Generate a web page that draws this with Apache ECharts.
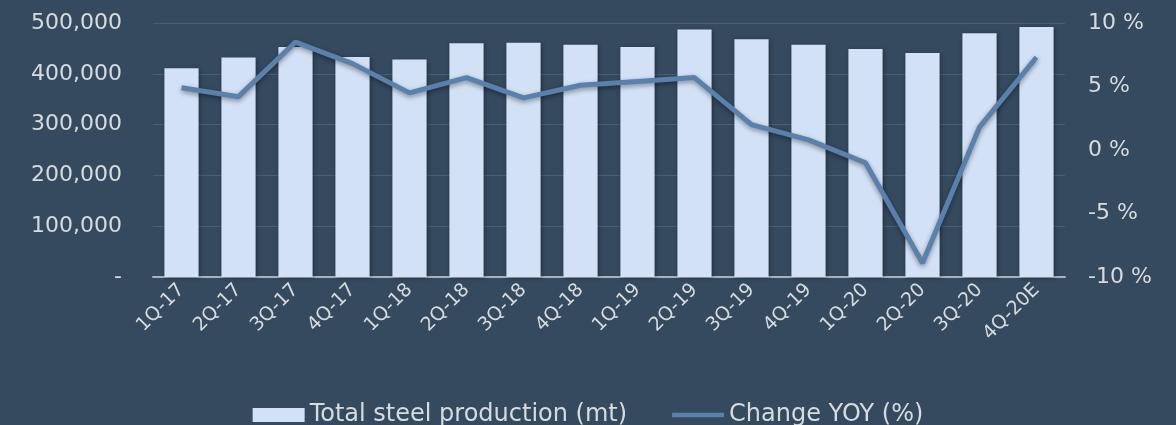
<!DOCTYPE html>
<html>
<head>
<meta charset="utf-8">
<script src="https://cdn.jsdelivr.net/npm/echarts@6/dist/echarts.min.js"></script>
<style>
  html, body { margin: 0; padding: 0; background: #354a5f; }
  #chart { width: 1176px; height: 425px; }
</style>
</head>
<body>
<div id="chart"></div>
<script>
const categories = ['1Q-17', '2Q-17', '3Q-17', '4Q-17', '1Q-18', '2Q-18', '3Q-18', '4Q-18',
  '1Q-19', '2Q-19', '3Q-19', '4Q-19', '1Q-20', '2Q-20', '3Q-20', '4Q-20E'];
// total steel production (mt)
const production = [411000, 432000, 453000, 433000, 428000, 460000, 461000, 457000,
  453000, 487000, 468000, 457000, 449000, 441000, 480000, 492000];
// change year on year, %
const changeYoy = [4.9, 4.2, 8.5, 6.8, 4.5, 5.7, 4.1, 5.1, 5.4, 5.7, 2.0, 0.8, -1.0, -8.9, 1.8, 7.3];

const textColor = '#d6dbe0';
const font = 'DejaVu Sans, Liberation Sans, sans-serif';

const chart = echarts.init(document.getElementById('chart'));

const option = {
  backgroundColor: '#354a5f',
  textStyle: { fontFamily: font },
  grid: { left: 153, right: 111, top: 23, bottom: 148 },
  legend: {
    top: 398,
    left: 'center',
    itemWidth: 52,
    itemHeight: 14,
    itemGap: 45,
    symbolKeepAspect: true,
    textStyle: { color: textColor, fontSize: 24, fontFamily: font },
    data: [
      { name: 'Total steel production (mt)', icon: 'rect' },
      { name: 'Change YOY (%)', icon: 'path://M0,0 L56,0 L56,5 L0,5 Z' }
    ]
  },
  xAxis: {
    type: 'category',
    data: categories,
    axisLine: { lineStyle: { color: '#a9b3bd', width: 2 } },
    axisTick: { show: false },
    axisLabel: {
      color: textColor,
      fontSize: 19,
      rotate: 45,
      margin: 10,
      interval: 0
    }
  },
  yAxis: [
    {
      type: 'value',
      min: 0,
      max: 500000,
      interval: 100000,
      axisLine: { show: false },
      axisTick: { show: false },
      splitLine: { lineStyle: { color: '#4b5f73', width: 1 } },
      axisLabel: {
        color: textColor,
        fontSize: 22,
        margin: 31,
        formatter: function (v) {
          return v === 0 ? '-' : v.toLocaleString('en-US');
        }
      }
    },
    {
      type: 'value',
      min: -10,
      max: 10,
      interval: 5,
      axisLine: { show: false },
      axisTick: { show: false },
      splitLine: { show: false },
      axisLabel: {
        color: textColor,
        fontSize: 22,
        margin: 23,
        formatter: '{value} %'
      }
    }
  ],
  series: [
    {
      name: 'Total steel production (mt)',
      type: 'bar',
      data: production,
      barWidth: '60%',
      itemStyle: {
        color: '#d3e1f6',
        shadowColor: 'rgba(0,0,0,0.35)',
        shadowBlur: 4,
        shadowOffsetX: 1,
        shadowOffsetY: 1
      }
    },
    {
      name: 'Change YOY (%)',
      type: 'line',
      yAxisIndex: 1,
      data: changeYoy,
      symbol: 'none',
      itemStyle: { color: '#5a81ac' },
      lineStyle: {
        color: '#5a81ac',
        width: 5,
        shadowColor: 'rgba(0,0,0,0.4)',
        shadowBlur: 5,
        shadowOffsetY: 2
      },
      z: 5
    }
  ]
};

chart.setOption(option);
</script>
</body>
</html>
